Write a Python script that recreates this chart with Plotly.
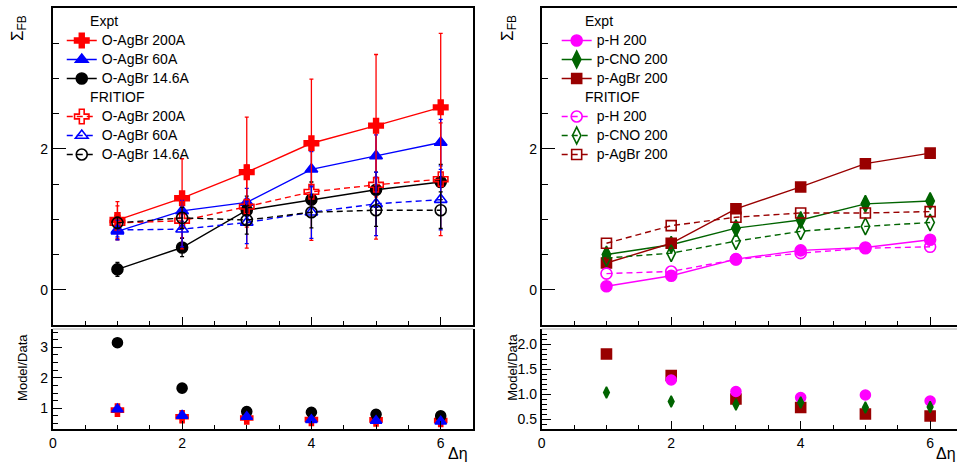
import numpy as np
import plotly.graph_objects as go

# ---------------- data ----------------
deta = [1, 2, 3, 4, 5, 6]

# O-AgBr, experiment
o200_expt = [0.99, 1.30, 1.67, 2.08, 2.33, 2.59]
o200_expt_err = [0.26, 0.56, 0.78, 0.91, 1.01, 1.05]
o60_expt = [0.83, 1.12, 1.24, 1.71, 1.90, 2.09]
o60_expt_err = [0.08, 0.15, 0.20, 0.25, 0.30, 0.33]
o14_expt = [0.29, 0.60, 1.13, 1.28, 1.42, 1.53]
o14_expt_err = [0.10, 0.13, 0.20, 0.25, 0.25, 0.25]

# O-AgBr, FRITIOF
o200_frit = [0.95, 0.98, 1.18, 1.39, 1.49, 1.57]
o200_frit_err = [0.24, 0.40, 0.59, 0.69, 0.77, 0.80]
o60_frit = [0.85, 0.86, 0.955, 1.10, 1.22, 1.28]
o60_frit_err = [0.14, 0.25, 0.30, 0.37, 0.45, 0.43]
o14_frit = [0.95, 1.02, 0.99, 1.10, 1.13, 1.13]
o14_frit_err = [0.08, 0.15, 0.20, 0.22, 0.23, 0.26]

# O-AgBr, Model/Data
o200_ratio = [0.94, 0.72, 0.68, 0.63, 0.62, 0.60]
o60_ratio = [0.97, 0.76, 0.72, 0.62, 0.59, 0.57]
o14_ratio = [3.15, 1.66, 0.89, 0.87, 0.80, 0.75]

# proton-induced, experiment
ph_expt = [0.05, 0.20, 0.435, 0.56, 0.60, 0.71]
ph_expt_err = [0.04, 0.04, 0.04, 0.04, 0.04, 0.04]
pcno_expt = [0.50, 0.64, 0.875, 0.99, 1.22, 1.26]
pcno_expt_err = [0.04, 0.04, 0.04, 0.05, 0.05, 0.05]
pagbr_expt = [0.38, 0.66, 1.15, 1.46, 1.79, 1.94]
pagbr_expt_err = [0.03, 0.03, 0.03, 0.03, 0.03, 0.03]

# proton-induced, FRITIOF
ph_frit = [0.23, 0.26, 0.43, 0.52, 0.59, 0.61]
pcno_frit = [0.45, 0.52, 0.69, 0.83, 0.90, 0.955]
pagbr_frit = [0.66, 0.91, 1.03, 1.09, 1.09, 1.11]

# proton-induced, Model/Data (p-H at 1 is off scale)
ph_ratio_x = [2, 3, 4, 5, 6]
ph_ratio = [1.28, 1.05, 0.93, 0.98, 0.86]
pcno_ratio = [1.03, 0.85, 0.79, 0.83, 0.73, 0.74]
pagbr_ratio = [1.80, 1.37, 0.90, 0.73, 0.60, 0.56]

# ---------------- styling ----------------
W, H = 957, 464
FONT = "Liberation Sans, Arial, sans-serif"
RED, BLUE, BLACK = "#ff0000", "#0000ff", "#000000"
MAG, GRN, DRED = "#ff00ff", "#006400", "#990000"
DASH = "6px,4px"
# legend rows are packed tightly: the row height follows the legend font size,
# while the visible text is set larger through a span
LEG_ROW_FONT = 10.3
LEG_TXT = "<span style='font-size:14px'>{}</span>"
INDENT = "\u00a0" * 6


def px_x(p):
    return p / W


def px_y(p):
    return 1 - p / H


fig = go.Figure()


def add(x, y, err, color, symbol, size, dash, name, group, gtitle, xa, ya, legend,
        mode="lines+markers", showlegend=True):
    kw = dict(
        x=x, y=y, mode=mode, name=LEG_TXT.format(name),
        marker=dict(color=color, symbol=symbol, size=size,
                    line=dict(color=color, width=1.6)),
        line=dict(color=color, width=1.4, dash=dash),
        xaxis=xa, yaxis=ya, showlegend=showlegend,
        legendgroup=group, legend=legend,
        legendgrouptitle=dict(text=LEG_TXT.format(INDENT + gtitle) if gtitle else "",
                              font=dict(size=LEG_ROW_FONT, color="black", family=FONT)),
    )
    if err is not None:
        kw["error_y"] = dict(type="data", array=err, visible=True,
                             color=color, thickness=1.3, width=2)
    fig.add_trace(go.Scatter(**kw))


# left panel: O-AgBr
add(deta, o200_expt, o200_expt_err, RED, "cross", 12, "solid", "O-AgBr 200A", "le", "Expt", "x", "y", "legend")
add(deta, o60_expt, o60_expt_err, BLUE, "triangle-up", 11, "solid", "O-AgBr 60A", "le", "Expt", "x", "y", "legend")
add(deta, o14_expt, o14_expt_err, BLACK, "circle", 11, "solid", "O-AgBr 14.6A", "le", "Expt", "x", "y", "legend")
add(deta, o200_frit, o200_frit_err, RED, "cross-open", 12, DASH, "O-AgBr 200A", "lf", "FRITIOF", "x", "y", "legend")
add(deta, o60_frit, o60_frit_err, BLUE, "triangle-up-open", 11, DASH, "O-AgBr 60A", "lf", "FRITIOF", "x", "y", "legend")
add(deta, o14_frit, o14_frit_err, BLACK, "circle-open", 11, DASH, "O-AgBr 14.6A", "lf", "FRITIOF", "x", "y", "legend")

# left ratio panel
add(deta, o200_ratio, None, RED, "cross", 10, "solid", "r200", "lr", "", "x2", "y2", "legend", mode="markers", showlegend=False)
add(deta, o14_ratio, None, BLACK, "circle", 10, "solid", "r14", "lr", "", "x2", "y2", "legend", mode="markers", showlegend=False)
add(deta, o60_ratio, None, BLUE, "triangle-up", 10, "solid", "r60", "lr", "", "x2", "y2", "legend", mode="markers", showlegend=False)

# right panel: proton-induced
add(deta, ph_expt, ph_expt_err, MAG, "circle", 11, "solid", "p-H 200", "re", "Expt", "x3", "y3", "legend2")
add(deta, pcno_expt, pcno_expt_err, GRN, "diamond-tall", 12, "solid", "p-CNO 200", "re", "Expt", "x3", "y3", "legend2")
add(deta, pagbr_expt, pagbr_expt_err, DRED, "square", 10, "solid", "p-AgBr 200", "re", "Expt", "x3", "y3", "legend2")
add(deta, ph_frit, None, MAG, "circle-open", 11, DASH, "p-H 200", "rf", "FRITIOF", "x3", "y3", "legend2")
add(deta, pcno_frit, None, GRN, "diamond-tall-open", 12, DASH, "p-CNO 200", "rf", "FRITIOF", "x3", "y3", "legend2")
add(deta, pagbr_frit, None, DRED, "square-open", 10, DASH, "p-AgBr 200", "rf", "FRITIOF", "x3", "y3", "legend2")

# right ratio panel
add(deta, pagbr_ratio, None, DRED, "square", 10, "solid", "rAgBr", "rr", "", "x4", "y4", "legend2", mode="markers", showlegend=False)
add(ph_ratio_x, ph_ratio, None, MAG, "circle", 10, "solid", "rH", "rr", "", "x4", "y4", "legend2", mode="markers", showlegend=False)
add(deta, pcno_ratio, None, GRN, "diamond-tall", 8, "solid", "rCNO", "rr", "", "x4", "y4", "legend2", mode="markers", showlegend=False)

# ---------------- axes ----------------
tickfont = dict(family=FONT, size=14, color="black")
half_steps = list(np.arange(0, 7.01, 0.5))

xl = [px_x(49), px_x(471)]
xr = [px_x(540), 1.0]
ytop = [px_y(325), px_y(8)]
ybot = [px_y(429), px_y(329)]


def xaxis(domain, rng, anchor, labels, mirror):
    return dict(
        domain=domain, range=rng, anchor=anchor, showgrid=False, zeroline=False,
        showline=True, linecolor="black", linewidth=2, mirror=mirror,
        ticks="inside", ticklen=8, tickwidth=1.2, tickcolor="black",
        tickmode="array", tickvals=[0, 1, 2, 3, 4, 5, 6],
        ticktext=["0", "", "2", "", "4", "", "6"],
        showticklabels=labels, tickfont=tickfont,
        minor=dict(tickmode="array", tickvals=half_steps, ticks="inside",
                   ticklen=4, tickwidth=1.2, tickcolor="black"),
    )


def yaxis(domain, rng, anchor, tickvals, ticktext, minor_step, majlen, minlen, mirror):
    return dict(
        domain=domain, range=rng, anchor=anchor, showgrid=False, zeroline=False,
        showline=True, linecolor="black", linewidth=2, mirror=mirror,
        ticks="inside", ticklen=majlen, tickwidth=1.2, tickcolor="black",
        tickmode="array", tickvals=tickvals, ticktext=ticktext, tickfont=tickfont,
        minor=dict(tickmode="linear", tick0=0, dtick=minor_step, ticks="inside",
                   ticklen=minlen, tickwidth=1.2, tickcolor="black"),
    )


legend_style = dict(xanchor="left", yanchor="top", bgcolor="rgba(0,0,0,0)",
                    font=dict(family=FONT, size=LEG_ROW_FONT, color="black"),
                    tracegroupgap=0, itemwidth=30, traceorder="grouped")

fig.update_layout(
    width=W, height=H, margin=dict(l=0, r=0, t=0, b=0),
    paper_bgcolor="white", plot_bgcolor="white",
    font=dict(family=FONT, color="black"),
    xaxis=xaxis(xl, [0, 6.5], "y", False, True),
    yaxis=yaxis(ytop, [-0.5, 4], "x", [0, 2, 4], ["0", "2", "4"], 0.5, 13, 6, True),
    xaxis2=xaxis(xl, [0, 6.5], "y2", True, False),
    yaxis2=yaxis(ybot, [0.32, 3.6], "x2", [1, 2, 3], ["1", "2", "3"], 0.25, 9, 5, True),
    xaxis3=xaxis(xr, [0, 6.415], "y3", False, True),
    yaxis3=yaxis(ytop, [-0.5, 4], "x3", [0, 2, 4], ["0", "2", "4"], 0.5, 13, 6, False),
    xaxis4=xaxis(xr, [0, 6.415], "y4", True, False),
    yaxis4=yaxis(ybot, [0.3, 2.3], "x4", [0.5, 1.0, 1.5, 2.0], ["0.5", "1.0", "1.5", "2.0"], 0.1, 9, 5, False),
    legend=dict(x=px_x(58), y=px_y(7), **legend_style),
    legend2=dict(x=px_x(555), y=px_y(7), **legend_style),
)

# thin grey top border of the ratio panels
for xd, yd in (("x2", "y2"), ("x4", "y4")):
    fig.add_shape(type="line", xref=f"{xd} domain", yref=f"{yd} domain",
                  x0=0, x1=1, y0=1, y1=1, line=dict(color="#aaaaaa", width=1.2))

# axis titles
for xp in (15, 507):
    fig.add_annotation(text="Σ<sub>FB</sub>", x=px_x(xp), y=px_y(28), xref="paper", yref="paper",
                       xanchor="center", yanchor="middle",
                       textangle=-90, showarrow=False, font=dict(family=FONT, size=17))
for xp in (18, 510):
    fig.add_annotation(text="Model/Data", x=px_x(xp), y=px_y(367), xref="paper", yref="paper",
                       xanchor="center", yanchor="middle",
                       textangle=-90, showarrow=False, font=dict(family=FONT, size=13))
for xp in (456, 946):
    fig.add_annotation(text="Δη", x=px_x(xp), y=px_y(453), xref="paper", yref="paper",
                       xanchor="center", yanchor="middle",
                       showarrow=False, font=dict(family=FONT, size=16))

fig.write_html("out.html")
